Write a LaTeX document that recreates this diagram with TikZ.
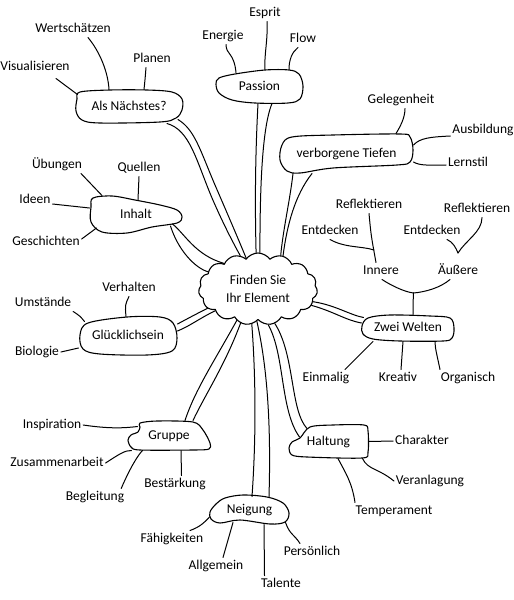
\documentclass[tikz,border=0pt]{standalone}
\usepackage{fontspec}
\setmainfont{Carlito}
\usetikzlibrary{shapes.symbols}
\begin{document}
\begin{tikzpicture}[x=1pt,y=-1pt,
  line width=1pt, line cap=round, line join=round,
  leaf/.style={font=\fontsize{13.5}{15}\selectfont, inner sep=1.5pt, text height=10pt, text depth=3pt},
  hub/.style={font=\fontsize{13.5}{15}\selectfont, inner sep=0pt, text height=10pt, text depth=3pt},
  blob/.style={draw=black, line width=1.1pt},
  conn/.style={draw=black, line width=1pt}]
\fill[white] (0,0) rectangle (514,600);
\useasboundingbox (0,0) rectangle (514,600);

% ---------- hub outlines ----------
\draw[blob] plot[smooth cycle, tension=0.55] coordinates {(80,92) (110,90) (147,90) (172,92) (182,99) (182,110) (176,118) (160,122) (100,123) (82,120) (76,111) (77,99)};
\draw[blob] plot[smooth cycle, tension=0.55] coordinates {(219,78) (235,74) (265,70) (289,70) (299,74) (303,86) (300,99) (288,103) (255,103) (232,100) (219,93) (216,84)};
\draw[blob] plot[smooth cycle, tension=0.55] coordinates {(282,145) (292,137) (333,135) (400,134) (410,137) (413,150) (410,162) (397,165) (333,168) (300,173) (287,171) (280,160)};
\draw[blob] plot[smooth cycle, tension=0.55] coordinates {(93,198) (112,196) (135,200) (160,205) (177,210) (182,217) (177,223) (152,227) (127,233) (102,232) (91,222) (91,207)};
\draw[blob] plot[smooth cycle, tension=0.55] coordinates {(80,335) (88,323) (127,317) (160,317) (173,323) (177,338) (172,351) (147,355) (100,354) (83,349)};
\draw[blob] plot[smooth cycle, tension=0.55] coordinates {(362,326) (368,318) (390,315) (430,316) (450,318) (454,328) (452,338) (443,341) (400,341) (373,339) (363,334)};
\draw[blob] plot[smooth cycle, tension=0.5] coordinates {(140,423) (157,421) (193,422) (203,430) (210,443) (209,449) (193,450) (140,450) (131,447) (128,440) (131,435) (138,432) (140,427)};
\draw[blob] plot[smooth cycle, tension=0.5] coordinates {(300,438) (310,427) (333,425) (364,425) (368,431) (368,452) (362,458) (307,457) (292,455) (289,448) (292,442)};
\draw[blob] plot[smooth cycle, tension=0.55] coordinates {(210,512) (216,504) (225,498) (243,495) (267,497) (283,503) (289,513) (285,522) (270,524) (240,520) (220,523) (211,519)};

% ---------- central cloud ----------
\node[cloud, draw, cloud puffs=15, cloud puff arc=110, cloud ignores aspect,
      minimum width=119pt, minimum height=72pt, inner sep=0pt, align=center,
      line width=1.1pt, font=\fontsize{13.5}{18}\selectfont] (c) at (258,289) {Finden Sie\\Ihr Element};

% ---------- hubs ----------
\node[hub, minimum width=106pt, minimum height=33pt] (nx) at (129,106.5) {Als Nächstes?};
\node[hub, minimum width=87pt, minimum height=33pt] (passion) at (259.5,86.5) {Passion};
\node[hub, minimum width=133pt, minimum height=39pt] (tiefen) at (346.5,153.5) {verborgene Tiefen};
\node[hub, minimum width=92pt, minimum height=37pt] (inhalt) at (136,214.5) {Inhalt};
\node[hub, minimum width=98pt, minimum height=38pt] (glueck) at (128,336) {Glücklichsein};
\node[hub, minimum width=92pt, minimum height=26pt] (zwei) at (408,328) {Zwei Welten};
\node[hub, minimum width=82pt, minimum height=29pt] (gruppe) at (169,435.5) {Gruppe};
\node[hub, minimum width=79pt, minimum height=33pt] (haltung) at (328.5,441.5) {Haltung};
\node[hub, minimum width=79pt, minimum height=29pt] (neigung) at (249.5,509.5) {Neigung};

% ---------- leaves ----------
\node[leaf] (wert) at (73,29) {Wertschätzen};
\node[leaf] (visu) at (35,67) {Visualisieren};
\node[leaf] (planen) at (152,59) {Planen};
\node[leaf] (energie) at (223,36) {Energie};
\node[leaf] (esprit) at (265,13) {Esprit};
\node[leaf] (flow) at (303,39) {Flow};
\node[leaf] (geleg) at (401,100) {Gelegenheit};
\node[leaf] (ausb) at (483,130) {Ausbildung};
\node[leaf] (lern) at (468,163) {Lernstil};
\node[leaf] (ueb) at (57,165) {Übungen};
\node[leaf] (quellen) at (139,168) {Quellen};
\node[leaf] (ideen) at (35,200) {Ideen};
\node[leaf] (gesch) at (46,242) {Geschichten};
\node[leaf] (verh) at (129,288) {Verhalten};
\node[leaf] (umst) at (43,303) {Umstände};
\node[leaf] (bio) at (37,352) {Biologie};
\node[leaf] (reflL) at (369,205) {Reflektieren};
\node[leaf] (entL) at (330,231) {Entdecken};
\node[leaf] (innere) at (381,271) {Innere};
\node[leaf] (reflR) at (477,209) {Reflektieren};
\node[leaf] (entR) at (432,231) {Entdecken};
\node[leaf] (auss) at (458,271) {Äußere};
\node[leaf] (einm) at (326,378) {Einmalig};
\node[leaf] (kreativ) at (398,378) {Kreativ};
\node[leaf] (organ) at (468,378) {Organisch};
\node[leaf] (insp) at (52,425) {Inspiration};
\node[leaf] (zus) at (57,463) {Zusammenarbeit};
\node[leaf] (begl) at (95,497) {Begleitung};
\node[leaf] (best) at (175,484) {Bestärkung};
\node[leaf] (faeh) at (172,539) {Fähigkeiten};
\node[leaf] (allg) at (216,566) {Allgemein};
\node[leaf] (tal) at (281,584) {Talente};
\node[leaf] (pers) at (312,552) {Persönlich};
\node[leaf] (charak) at (422,441) {Charakter};
\node[leaf] (veran) at (430,481) {Veranlagung};
\node[leaf] (temp) at (394,511) {Temperament};

\coordinate (innJ) at (374,250);
\coordinate (ausJ) at (458,253);
\coordinate (zweiJ) at (413.5,293);

% ---------- hub to centre (double branches) ----------
\draw[conn] ([xshift=38]nx.south) .. controls (190,130) and (196,160) .. (212,198) .. controls (225,228) and (236,248) .. (c.118);
\draw[conn] ([xshift=49,yshift=4]nx.south) .. controls (195,130) and (200,150) .. (215,185) .. controls (228,215) and (240,243) .. (c.111);
\draw[conn] ([xshift=-1.5]passion.south) .. controls (255,160) and (255,210) .. (c.93);
\draw[conn] ([xshift=12.5]passion.south) .. controls (261,130) and (260,200) .. (c.87);
\draw[conn] ([xshift=-53.5]tiefen.south) .. controls (290,200) and (283,230) .. (c.56);
\draw[conn] ([xshift=-34.5]tiefen.south) .. controls (295,195) and (287,225) .. (c.53);
\draw[conn] ([xshift=-10,yshift=-9.5]inhalt.east) .. controls (185,234) and (195,255) .. (c.143);
\draw[conn] ([xshift=-12,yshift=-11.5]inhalt.east) .. controls (178,250) and (195,268) .. (c.161);
\draw[conn] ([yshift=12]glueck.east) .. controls (185,320) and (198,313) .. (c.201);
\draw[conn] ([yshift=5]glueck.east) .. controls (190,326) and (200,318) .. (c.207);
\draw[conn] ([xshift=2,yshift=-3]zwei.north west) .. controls (350,315) and (335,305) .. (c.-13);
\draw[conn] ([yshift=5]zwei.west) .. controls (345,320) and (335,312) .. (c.-17.5);
\draw[conn] ([xshift=16]gruppe.north) .. controls (195,390) and (215,360) .. (c.236);
\draw[conn] ([xshift=24]gruppe.north) .. controls (205,395) and (225,365) .. (c.243);
\draw[conn] ([xshift=2.5,yshift=-2]neigung.north) .. controls (256,440) and (256,380) .. (c.260);
\draw[conn] ([xshift=19.5,yshift=-2]neigung.north) .. controls (271,430) and (268,370) .. (c.268);
\draw[conn] ([xshift=11,yshift=4.5]haltung.west) .. controls (280,410) and (285,355) .. (c.286);
\draw[conn] ([xshift=-21.5,yshift=-4]haltung.north) .. controls (290,410) and (295,355) .. (c.296);

% ---------- leaf connectors ----------
\draw[conn] ([xshift=15]wert.south) .. controls (100,52) and (108,72) .. ([xshift=-20]nx.north);
\draw[conn] ([xshift=21,yshift=-3]visu.south) -- ([xshift=2,yshift=-5]nx.north west);
\draw[conn] ([xshift=-6]planen.south) .. controls (145,80) .. ([xshift=15]nx.north);
\draw[conn] ([xshift=3]energie.south) .. controls (226,55) and (234,52) .. ([xshift=-23.5,yshift=-3]passion.north);
\draw[conn] ([xshift=2]esprit.south) .. controls (268,40) and (264,55) .. ([xshift=5.5]passion.north);
\draw[conn] ([xshift=-5]flow.south) .. controls (292,52) and (289,60) .. ([xshift=29.5]passion.north);
\draw[conn] ([xshift=4]geleg.south) .. controls (405,118) and (400,127) .. ([xshift=49.5]tiefen.north);
\draw[conn] ([yshift=8.5]tiefen.east) .. controls (420,138) and (430,137) .. ([yshift=-6]ausb.west);
\draw[conn] ([yshift=-8.5]tiefen.east) .. controls (420,166) and (430,165) .. ([yshift=-2]lern.west);
\draw[conn] ([xshift=-3]ueb.south east) -- ([xshift=-34]inhalt.north);
\draw[conn] (quellen.south) -- ([xshift=2,yshift=-4]inhalt.north);
\draw[conn] ([yshift=-4]ideen.east) -- ([yshift=6.5]inhalt.west);
\draw[conn] ([yshift=3]gesch.east) -- ([xshift=7,yshift=-13.5]inhalt.west);
\draw[conn] (verh.south) .. controls (125,305) .. ([xshift=-2]glueck.north);
\draw[conn] (umst.south east) .. controls (80,316) .. ([xshift=6,yshift=-5]glueck.north west);
\draw[conn] (bio.east) -- ([yshift=-12]glueck.west);
\draw[conn] (reflL.south) .. controls (371,235) .. ([xshift=-5]innere.north);
\draw[conn] (entL.south) .. controls (345,248) and (362,246) .. (innJ);
\draw[conn] ([xshift=15]entR.south) .. controls (453,242) and (456,248) .. (ausJ);
\draw[conn] ([xshift=5]reflR.south) .. controls (482,232) and (466,240) .. (ausJ);
\draw[conn] ([xshift=1]innere.south) .. controls (392,286) and (405,292) .. (zweiJ);
\draw[conn] ([xshift=-8]auss.south) .. controls (440,288) and (425,292) .. (zweiJ);
\draw[conn] (zweiJ) .. controls (413,305) .. ([xshift=5]zwei.north);
\draw[conn] ([xshift=19]einm.north) -- ([xshift=-35]zwei.south);
\draw[conn] ([xshift=3]kreativ.north) -- ([xshift=-5]zwei.south);
\draw[conn] ([xshift=-28]organ.north) .. controls (437,355) and (435,348) .. ([xshift=27]zwei.south);
\draw[conn] (insp.east) .. controls (110,429) and (125,428) .. ([xshift=10,yshift=-6]gruppe.north west);
\draw[conn] (zus.east) .. controls (118,455) and (125,450) .. ([xshift=4]gruppe.south west);
\draw[conn] ([xshift=-5]begl.north east) .. controls (130,468) and (138,455) .. ([xshift=15]gruppe.south west);
\draw[conn] ([xshift=12]gruppe.south) -- ([xshift=6.5]best.north);
\draw[conn] ([xshift=18]faeh.north) .. controls (200,527) and (205,522) .. ([yshift=-7.5]neigung.west);
\draw[conn] ([xshift=7]allg.north) -- ([xshift=-16.5,yshift=2]neigung.south);
\draw[conn] ([xshift=14.5]neigung.south) -- ([xshift=-16.5]tal.north);
\draw[conn] ([xshift=-4,yshift=2]neigung.south east) .. controls (290,535) and (294,534) .. ([xshift=-12]pers.north);
\draw[conn] (haltung.east) -- (charak.west);
\draw[conn] ([xshift=-6]haltung.south east) .. controls (368,470) and (378,468) .. (veran.west);
\draw[conn] ([xshift=9.5]haltung.south) .. controls (345,472) and (352,482) .. ([xshift=-39]temp.north);
\end{tikzpicture}
\end{document}
